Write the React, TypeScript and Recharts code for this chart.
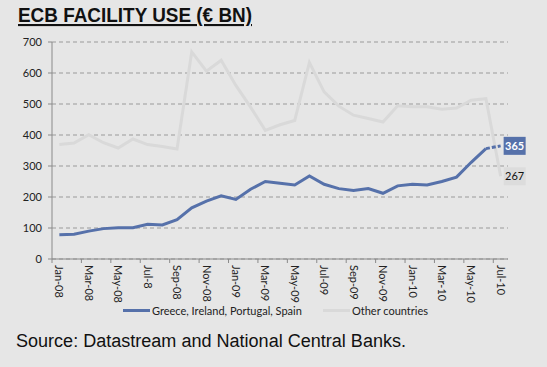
import { LineChart, Line, XAxis, YAxis, CartesianGrid, Legend } from 'recharts';

const MONTHS = [
  'Jan-08', 'Feb-08', 'Mar-08', 'Apr-08', 'May-08', 'Jun-08', 'Jul-08', 'Aug-08',
  'Sep-08', 'Oct-08', 'Nov-08', 'Dec-08', 'Jan-09', 'Feb-09', 'Mar-09', 'Apr-09',
  'May-09', 'Jun-09', 'Jul-09', 'Aug-09', 'Sep-09', 'Oct-09', 'Nov-09', 'Dec-09',
  'Jan-10', 'Feb-10', 'Mar-10', 'Apr-10', 'May-10', 'Jun-10', 'Jul-10',
];
// tick label text as printed (the axis shows "Jul-8" for Jul-08)
const TICK_TEXT: Record<string, string> = { 'Jul-08': 'Jul-8' };

const PERIPHERY = [
  78, 80, 90, 98, 101, 101, 112, 110, 127, 165, 187, 204, 192, 225, 250, 244,
  239, 268, 241, 227, 221, 227, 212, 236, 241, 239, 250, 264, 312, 356, 365,
];
const OTHERS = [
  369, 374, 401, 375, 358, 387, 369, 363, 355, 668, 606, 641, 560, 490, 415, 433,
  447, 634, 539, 493, 464, 453, 442, 494, 491, 491, 483, 487, 512, 517, 267,
];
const Y_TICKS = [0, 100, 200, 300, 400, 500, 600, 700];

const BLUE = '#5671aa';
const GREY = '#d9d9d9';
const BG = '#e6e6e6';
const FONT = 'Lato, "Open Sans", sans-serif';

const PLOT_LEFT = 52;
const PLOT_RIGHT = 508;
const BAND = (PLOT_RIGHT - PLOT_LEFT) / MONTHS.length;
const LAST = MONTHS.length - 1;

// solid up to the second-to-last month, dashed for the final step
const data = MONTHS.map((m, i) => ({
  month: m,
  periphery: i < LAST ? PERIPHERY[i] : null,
  peripheryEnd: i >= LAST - 1 ? PERIPHERY[i] : null,
  others: OTHERS[i],
}));

function MonthTick({ x, y, payload }: any) {
  return (
    <g transform={`translate(${x},${y})`}>
      <line x1={-BAND / 2} x2={-BAND / 2} y1={0} y2={4} stroke="#8a8a8a" />
      <text
        transform="rotate(90)"
        x={6}
        y={0}
        dy="0.35em"
        textAnchor="start"
        fontSize={11}
        fontFamily={FONT}
        fill="#222"
      >
        {TICK_TEXT[payload.value] ?? payload.value}
      </text>
    </g>
  );
}

function endLabel(bg: string, fg: string, bold: boolean) {
  return (props: any) => {
    const { x, y, value, index } = props;
    if (value == null || index !== LAST) return null;
    return (
      <g>
        <rect x={x + 3} y={y - 9} width={22} height={18} fill={bg} />
        <text
          x={x + 14}
          y={y}
          dy="0.35em"
          textAnchor="middle"
          fontSize={11}
          fontWeight={bold ? 700 : 400}
          fontFamily={FONT}
          fill={fg}
        >
          {value}
        </text>
      </g>
    );
  };
}

function LegendContent() {
  const item = (left: number, color: string, label: string) => (
    <div style={{ position: 'absolute', left, top: -2, display: 'flex', alignItems: 'center', height: 16 }}>
      <div style={{ width: 27, height: 3, background: color, marginRight: 2 }} />
      <span style={{ fontSize: 11, fontFamily: FONT, color: '#222', whiteSpace: 'nowrap' }}>{label}</span>
    </div>
  );
  return (
    <div style={{ position: 'relative', width: 547, height: 16 }}>
      {item(123, BLUE, 'Greece, Ireland, Portugal, Spain')}
      {item(323, GREY, 'Other countries')}
    </div>
  );
}

export default function App() {
  return (
    <div style={{ position: 'absolute', left: 0, top: 0, width: 547, height: 367, background: BG, overflow: 'hidden' }}>
      <LineChart
        width={547}
        height={320}
        data={data}
        margin={{ top: 42, right: 547 - PLOT_RIGHT, left: PLOT_LEFT - 40, bottom: 0 }}
      >
        <CartesianGrid vertical={false} stroke="#9a9a9a" strokeDasharray="4 3" />
        <XAxis
          dataKey="month"
          interval={1}
          padding={{ left: BAND / 2, right: BAND / 2 }}
          tick={<MonthTick />}
          tickLine={false}
          tickSize={0}
          tickMargin={0}
          height={45}
          axisLine={{ stroke: '#8a8a8a' }}
        />
        <YAxis
          domain={[0, 700]}
          ticks={Y_TICKS}
          width={40}
          tickSize={4}
          tickMargin={6}
          tickLine={{ stroke: '#8a8a8a' }}
          axisLine={{ stroke: '#8a8a8a' }}
          tick={{ fontSize: 11, fill: '#222', fontFamily: FONT }}
          interval={0}
        />
        <Legend
          verticalAlign="bottom"
          content={<LegendContent />}
          wrapperStyle={{ left: 0, width: 547 }}
        />
        <Line
          dataKey="others"
          stroke={GREY}
          strokeWidth={3}
          dot={false}
          isAnimationActive={false}
          label={endLabel('#dcdcdc', '#111', false)}
          legendType="none"
        />
        <Line
          dataKey="periphery"
          stroke={BLUE}
          strokeWidth={3}
          dot={false}
          isAnimationActive={false}
        />
        <Line
          dataKey="peripheryEnd"
          stroke={BLUE}
          strokeWidth={3}
          strokeDasharray="4 2"
          dot={false}
          isAnimationActive={false}
          label={endLabel(BLUE, '#fff', true)}
          connectNulls={false}
        />
      </LineChart>
      <svg width={547} height={367} style={{ position: 'absolute', left: 0, top: 0, pointerEvents: 'none' }}>
        <text
          x={18}
          y={22}
          fontSize={21}
          fontWeight={700}
          fontFamily='"Liberation Sans", Arial, sans-serif'
          fill="#111"
          textLength={234}
          lengthAdjust="spacingAndGlyphs"
          textDecoration="underline"
        >
          ECB FACILITY USE (€ BN)
        </text>
        <text
          x={16}
          y={347}
          fontSize={18}
          fontFamily='"Liberation Sans", Arial, sans-serif'
          fill="#111"
          textLength={390}
          lengthAdjust="spacingAndGlyphs"
        >
          Source: Datastream and National Central Banks.
        </text>
      </svg>
    </div>
  );
}
